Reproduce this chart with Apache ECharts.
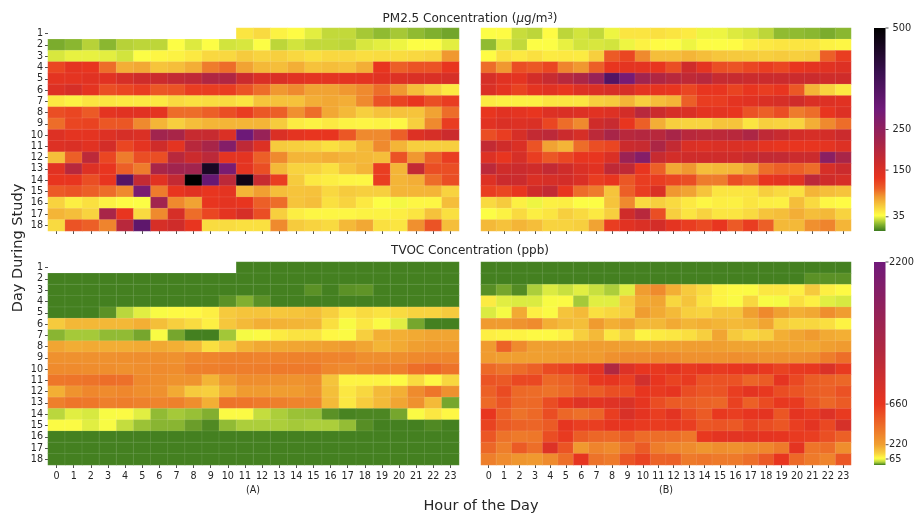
<!DOCTYPE html>
<html><head><meta charset="utf-8">
<style>html,body{margin:0;padding:0;background:#fff}#c{width:917px;height:514px}</style>
<script src="https://cdn.jsdelivr.net/npm/echarts@6/dist/echarts.min.js"></script>
</head><body><div id="c"></div>
<script>
const hours = ["0","1","2","3","4","5","6","7","8","9","10","11","12","13","14","15","16","17","18","19","20","21","22","23"];
const days = ["1","2","3","4","5","6","7","8","9","10","11","12","13","14","15","16","17","18"];
const pmTicks = [35,150,250,500];
const tvocTicks = [65,220,660,2200];
const _ = null;

const pmA = [
[_,_,_,_,_,_,_,_,_,_,_,50,55,44,40,33,27,27,22,18,22,18,15,12],
[14,17,25,17,25,26,26,38,32,38,30,31,38,26,30,27,27,26,31,33,35,38,38,33],
[31,34,34,33,30,38,42,44,48,56,56,62,58,60,56,52,56,56,53,54,54,56,58,85],
[120,135,130,100,75,78,65,68,75,95,100,80,70,68,75,66,68,66,75,130,105,112,112,130],
[135,135,140,140,155,165,170,180,185,205,205,170,150,150,140,135,135,135,135,140,145,150,150,155],
[145,155,135,115,120,125,110,112,125,125,125,112,100,85,90,80,80,85,90,100,85,68,58,48],
[48,44,50,50,48,48,48,55,52,54,54,50,65,66,66,75,78,75,90,112,122,130,115,125],
[115,120,108,135,140,140,135,100,100,105,115,125,110,105,88,100,78,70,60,66,66,65,80,100],
[100,120,122,110,110,90,72,60,68,72,72,72,72,62,47,44,48,44,43,44,42,60,90,125],
[145,135,135,145,155,150,225,215,175,175,150,305,240,150,135,130,130,110,90,90,105,145,155,170],
[145,150,140,160,120,135,165,135,195,215,270,185,145,62,60,58,52,58,70,90,72,60,60,60],
[68,105,190,120,95,115,115,195,170,190,135,135,105,90,72,72,75,72,70,68,112,85,105,125],
[140,195,145,130,105,95,215,225,225,450,285,135,115,70,58,58,52,65,72,125,72,180,115,115],
[130,130,115,130,345,180,140,180,500,315,190,470,175,125,62,48,46,43,42,125,72,75,100,115],
[108,112,105,100,90,285,95,130,140,130,135,72,82,68,65,66,56,62,60,60,72,72,72,58],
[58,46,52,44,40,38,225,90,80,130,135,130,105,100,65,68,52,58,48,38,36,42,42,68],
[72,68,58,215,130,55,90,155,100,120,135,155,115,60,46,42,42,42,44,44,46,50,66,52],
[55,112,105,92,195,330,155,165,130,54,54,52,52,90,62,58,55,70,78,52,50,88,112,68]
];
const pmB = [
[38,40,28,26,40,26,30,27,35,50,50,52,50,47,35,35,32,30,26,18,18,17,14,17],
[18,32,27,38,38,34,30,31,30,35,44,40,38,35,39,38,40,46,48,50,50,50,44,42],
[40,52,48,52,47,48,47,60,108,120,90,68,68,72,68,64,63,62,60,62,60,62,105,125],
[100,85,115,110,120,92,85,105,130,135,135,130,115,165,135,115,112,120,125,120,130,135,140,145],
[155,140,135,160,175,195,210,240,350,290,225,205,195,185,195,175,175,170,170,170,170,170,165,165],
[150,135,122,135,140,130,145,150,155,155,135,132,130,120,130,130,122,130,125,130,110,72,58,48],
[47,45,45,45,50,50,50,60,62,72,60,68,72,105,125,125,135,140,150,155,165,150,145,140],
[130,140,135,130,145,150,145,140,145,160,195,170,155,150,135,135,130,112,105,115,95,100,130,145],
[140,150,145,150,120,100,90,165,175,130,105,75,60,58,58,65,65,50,60,58,58,75,90,100],
[115,125,155,180,190,170,155,190,215,195,200,195,215,195,190,190,195,210,185,175,160,155,160,170],
[180,165,150,112,80,72,100,115,120,170,175,210,180,150,145,150,150,145,135,130,130,130,135,145],
[145,130,155,125,110,120,130,130,150,235,270,175,160,165,165,165,165,175,180,180,170,170,260,215],
[190,165,170,165,180,165,150,140,185,185,130,105,78,85,68,70,72,80,100,105,105,100,155,170],
[145,170,170,150,155,160,150,125,130,110,125,125,120,115,95,95,115,105,130,135,140,190,165,155],
[125,120,130,165,180,130,100,95,65,105,125,150,85,80,65,50,50,50,60,55,52,72,68,65],
[55,62,45,35,45,46,38,38,65,90,55,60,55,48,42,46,45,50,46,45,68,55,42,40],
[38,44,55,46,50,60,55,48,60,165,195,115,60,50,58,50,50,55,65,68,75,68,70,58],
[70,66,72,68,58,58,60,80,125,140,150,160,135,125,118,130,108,125,105,70,70,88,92,72]
];
const tvocA = [
[_,_,_,_,_,_,_,_,_,_,_,2,2,2,2,2,2,2,2,2,2,2,2,2],
[2,2,2,2,2,2,2,2,2,2,2,2,2,2,2,2,2,2,2,2,2,2,2,2],
[2,2,2,2,2,2,2,2,2,2,2,2,2,2,2,8,2,8,9,2,2,2,2,2],
[2,2,2,2,2,2,2,2,2,2,8,18,8,2,2,2,2,2,2,2,2,2,2,2],
[2,2,2,8,35,55,68,75,78,90,140,150,150,145,150,160,130,100,115,105,115,125,125,140],
[140,175,175,175,175,190,160,130,115,90,145,170,190,185,180,175,110,68,100,70,55,15,2,2],
[20,28,28,22,22,15,68,15,2,2,27,65,72,95,105,105,80,72,130,190,190,200,210,210],
[210,195,200,195,195,200,205,190,170,110,140,185,205,205,210,215,225,240,210,180,200,225,240,235],
[280,280,280,280,285,290,285,280,320,330,340,340,335,335,340,340,330,330,290,290,290,310,320,320],
[300,300,295,290,280,290,300,295,340,350,360,355,360,370,370,370,320,300,325,340,350,420,450,400],
[380,390,400,420,410,310,290,270,270,180,250,295,290,280,270,285,150,85,85,85,75,115,80,120],
[190,270,320,300,320,290,280,200,140,130,190,240,240,230,240,270,160,100,120,170,190,300,390,280],
[350,390,380,350,360,340,330,340,290,190,400,390,370,350,330,320,170,100,135,170,210,280,170,15],
[35,55,50,68,72,55,22,28,24,18,72,72,40,30,25,24,8,3,4,4,15,70,100,80],
[72,72,55,68,40,25,20,20,12,5,22,30,30,30,28,30,30,23,7,2,2,2,5,2],
[2,2,2,2,2,2,2,2,2,2,2,2,2,2,2,2,2,2,2,2,2,2,2,2],
[2,2,2,2,2,2,2,2,2,2,2,2,2,2,2,2,2,2,2,2,2,2,2,2],
[2,2,2,2,2,2,2,2,2,2,2,2,2,2,2,2,2,2,2,2,2,2,2,2]
];
const tvocB = [
[2,2,2,2,2,2,2,2,2,2,2,2,2,2,2,2,2,2,2,2,2,2,2,2],
[2,2,2,2,2,2,2,2,2,2,2,2,2,2,2,2,2,2,2,2,2,8,8,8],
[7,15,6,30,52,42,55,42,30,55,230,300,190,140,115,85,75,72,100,100,90,140,90,75],
[95,55,52,52,68,72,28,55,55,140,200,210,120,150,105,85,70,120,68,65,110,90,55,50],
[52,65,200,90,72,150,170,110,120,130,230,200,170,130,125,150,150,220,310,220,190,205,290,230],
[240,240,270,300,190,170,160,240,190,210,175,175,200,180,190,180,170,180,210,130,120,120,110,85],
[90,85,85,75,75,90,130,170,100,130,85,95,100,110,130,210,140,120,130,190,210,240,200,190],
[240,470,300,225,225,225,225,230,230,225,220,220,225,230,230,225,215,215,215,210,210,205,225,240],
[240,225,225,225,225,240,240,240,280,300,300,310,300,280,280,280,290,280,270,280,280,290,360,420],
[440,400,430,480,570,600,640,720,1250,780,660,650,700,640,680,640,660,690,650,600,640,650,800,640],
[530,510,580,580,440,470,520,650,680,620,900,660,600,640,540,540,540,460,500,690,580,490,470,450],
[480,570,440,430,400,440,500,490,550,570,660,640,680,560,520,530,620,700,650,560,530,490,480,540],
[440,530,440,440,560,650,760,720,760,800,680,560,500,490,470,450,610,480,570,650,640,520,450,500],
[660,480,400,440,560,450,410,460,620,820,700,620,720,570,500,650,620,670,700,520,700,640,780,640],
[600,500,470,460,500,680,620,620,680,660,640,630,640,620,520,530,510,590,560,520,620,720,580,850],
[520,400,370,380,560,640,490,450,440,500,430,420,420,380,650,700,730,700,690,680,640,620,550,480],
[450,350,500,420,780,530,250,330,300,400,500,360,320,300,260,290,280,300,320,370,700,390,420,290],
[350,300,260,250,300,420,680,400,370,530,600,470,480,370,390,370,370,420,510,660,440,370,330,520]
];

const pmStops = [[0,'#3c7a1e'],[15,'#7fb02e'],[38,'#ffff45'],[60,'#f7cf3e'],[85,'#f09830'],[105,'#ec5f27'],[130,'#e8351f'],[165,'#cf2c2a'],[215,'#a82548'],[300,'#701a7a'],[390,'#3a1050'],[500,'#000000']];
const tvocStops = [[0,'#3c7a1e'],[30,'#b0d23c'],[70,'#ffff45'],[130,'#f7cf3e'],[220,'#f0a030'],[370,'#ee7a2a'],[660,'#e8351f'],[1250,'#b02840'],[2200,'#701a7a']];

function ramp(stops, max, n){
  const hex = c => [1,3,5].map(i => parseInt(c.substr(i,2),16));
  const out = [];
  for(let k=0;k<n;k++){
    const v = max*k/(n-1);
    let i = 0; while(i<stops.length-2 && v>stops[i+1][0]) i++;
    const a = stops[i], b = stops[i+1], t = (v-a[0])/(b[0]-a[0]);
    const A = hex(a[1]), B = hex(b[1]);
    out.push('rgb('+A.map((x,j)=>Math.round(x+(B[j]-x)*t)).join(',')+')');
  }
  return out;
}
const toCells = m => m.flatMap((r,y)=>r.map((v,x)=>v===null?null:[x,y,v])).filter(Boolean);

const ink = '#262626';
const G = [
  {left:48, top:28, width:411, height:203},
  {left:481,top:28, width:370, height:203},
  {left:48, top:262,width:411, height:203},
  {left:481,top:262,width:370, height:203},
  {left:874,top:28, width:11.5,height:203},
  {left:874,top:262,width:11.5,height:203}
];
const xa = (i,lab)=>({type:'category',gridIndex:i,data:hours,position:'bottom',
  axisLine:{show:false},splitLine:{show:false},
  axisTick:{show:true,alignWithLabel:true,length:3,lineStyle:{color:ink,width:0.8},interval:0},
  axisLabel:{show:lab,interval:0,color:ink,fontSize:9.6,fontFamily:'DejaVu Sans',margin:6}});
const ya = (i,lab)=>({type:'category',gridIndex:i,data:days,inverse:true,
  axisLine:{show:false},splitLine:{show:false},
  axisTick:{show:lab,alignWithLabel:true,length:3,lineStyle:{color:ink,width:0.8},interval:0},
  axisLabel:{show:lab,interval:0,color:ink,fontSize:9.6,fontFamily:'DejaVu Sans',margin:5}});
const cbx = i=>({type:'value',gridIndex:i,show:false,min:0,max:1});
const cby = (i,max,ticks)=>({type:'value',gridIndex:i,min:0,max:max,position:'right',
  axisLine:{show:false},splitLine:{show:false},
  axisTick:{show:false},
  axisLabel:{show:true,customValues:ticks,formatter:v=>String(v),color:ink,fontSize:9.8,fontFamily:'DejaVu Sans',margin:7,showMinLabel:true,showMaxLabel:true}});
const hm = (i,d)=>({type:'heatmap',xAxisIndex:i,yAxisIndex:i,data:toCells(d),
  itemStyle:{borderColor:'rgba(255,255,255,0.16)',borderWidth:0.6},
  emphasis:{disabled:true},silent:true,progressive:0,animation:false});
const vm = (idx,max,stops)=>({type:'continuous',min:0,max:max,seriesIndex:idx,calculable:false,show:false,
  inRange:{color:ramp(stops,max,201)}});
const bar = (stops,max,top)=>{
  const cols = ramp(stops,max,201);
  return {type:'rect',silent:true,z:1,shape:{x:874,y:top,width:11.5,height:203},
    style:{fill:new echarts.graphic.LinearGradient(0,1,0,0,cols.map((c,i)=>({offset:i/200,color:c})))}};
};

const chart = echarts.init(document.getElementById('c'),null,{renderer:'canvas'});
const txt = {fontFamily:'DejaVu Sans',color:ink,fontWeight:'normal'};
chart.setOption({
  animation:false,backgroundColor:'#fff',
  title:[
    {text:'{a|PM2.5 Concentration (}{i|μ}{a|g/m}{s|3}{a|)}',left:470,top:13,textAlign:'center',padding:0,
     textStyle:{fontWeight:'normal',rich:{a:{...txt,fontSize:12},i:{...txt,fontSize:12,fontStyle:'italic'},s:{...txt,fontSize:8.4,verticalAlign:'top',padding:[0,0,4,0]}}}},
    {text:'TVOC Concentration (ppb)',left:470,top:245,textAlign:'center',padding:0,textStyle:{...txt,fontSize:12}},
    {text:'(A)',left:253,top:485,textAlign:'center',padding:0,textStyle:{...txt,fontSize:9.6}},
    {text:'(B)',left:666,top:485,textAlign:'center',padding:0,textStyle:{...txt,fontSize:9.6}},
    {text:'Hour of the Day',left:481,top:499,textAlign:'center',padding:0,textStyle:{...txt,fontSize:14.5}}
  ],
  grid:G,
  xAxis:[xa(0,false),xa(1,false),xa(2,true),xa(3,true),cbx(4),cbx(5)],
  yAxis:[ya(0,true),ya(1,false),ya(2,true),ya(3,false),cby(4,500,pmTicks),cby(5,2200,tvocTicks)],
  visualMap:[vm([0,1],500,pmStops),vm([2,3],2200,tvocStops)],
  series:[hm(0,pmA),hm(1,pmB),hm(2,tvocA),hm(3,tvocB)]
});
const tickMarks = (axis,ticks)=>ticks.map(v=>{
  const y = chart.convertToPixel({yAxisIndex:axis},v);
  return {type:'line',silent:true,shape:{x1:885.5,y1:y,x2:888.5,y2:y},style:{stroke:ink,lineWidth:0.8}};
});
chart.setOption({graphic:[
  {type:'text',x:18,y:248,rotation:Math.PI/2,style:{text:'Day During Study',fontFamily:'DejaVu Sans',fontSize:14.5,fill:ink,align:'center',verticalAlign:'middle'}},
  bar(pmStops,500,28),bar(tvocStops,2200,262),
  ...tickMarks(4,pmTicks),...tickMarks(5,tvocTicks)
]});
</script></body></html>
